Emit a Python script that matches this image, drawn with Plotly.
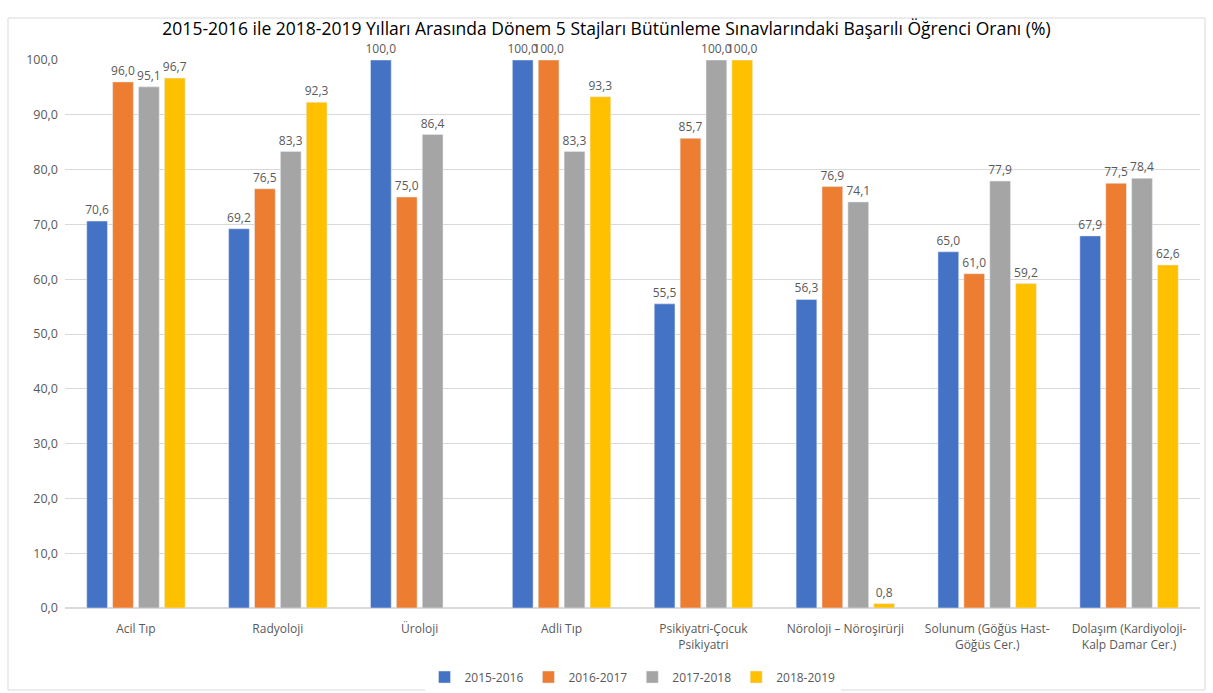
import plotly.graph_objects as go

categories = ["Acil Tıp", "Radyoloji", "Üroloji", "Adli Tıp", "Psikiyatri-Çocuk<br>Psikiyatri",
              "Nöroloji – Nöroşirürji", "Solunum (Göğüs Hast-<br>Göğüs Cer.)",
              "Dolaşım (Kardiyoloji-<br>Kalp Damar Cer.)"]
series_names = ["2015-2016", "2016-2017", "2017-2018", "2018-2019"]
v2015 = [70.6, 69.2, 100.0, 100.0, 55.5, 56.3, 65.0, 67.9]
v2016 = [96.0, 76.5, 75.0, 100.0, 85.7, 76.9, 61.0, 77.5]
v2017 = [95.1, 83.3, 86.4, 83.3, 100.0, 74.1, 77.9, 78.4]
v2018 = [96.7, 92.3, None, 93.3, 100.0, 0.8, 59.2, 62.6]
colors = ["#4472C4", "#ED7D31", "#A5A5A5", "#FFC000"]
title = "2015-2016 ile 2018-2019 Yılları Arasında Dönem 5 Stajları Bütünleme Sınavlarındaki Başarılı Öğrenci Oranı (%)"

FONT = "Open Sans, Liberation Sans, sans-serif"
fig = go.Figure()
for name, vals, col in zip(series_names, [v2015, v2016, v2017, v2018], colors):
    txt = ["" if v is None else f"{v:.1f}".replace(".", ",") for v in vals]
    fig.add_trace(go.Bar(
        x=categories, y=vals, name=name, marker_color=col,
        text=txt, textposition="outside", cliponaxis=False, constraintext="none",
        textfont=dict(size=12, color="#595959", family=FONT),
    ))

fig.update_layout(
    width=1213, height=693,
    barmode="group", bargap=0.27, bargroupgap=0.2,
    separators=",.",
    paper_bgcolor="white", plot_bgcolor="white",
    margin=dict(l=65, r=13, t=60, b=85, autoexpand=False),
    font=dict(family=FONT, color="#595959", size=12),
    title=dict(text=title, x=0.5, xanchor="center", y=0.959, yanchor="middle",
               font=dict(size=17.5, color="#000000", family=FONT)),
    legend=dict(orientation="h", x=0.5, xanchor="center", y=-0.126, yanchor="middle",
                font=dict(size=12, color="#595959"), traceorder="normal",
                itemwidth=30, tracegroupgap=0),
    showlegend=True,
)
fig.update_yaxes(range=[0, 100], dtick=10, tickformat=".1f", showgrid=True,
                 gridcolor="#D9D9D9", zeroline=True, zerolinecolor="#D9D9D9",
                 ticks="", tickfont=dict(size=12.5, color="#595959"), automargin=False,
                 ticklabelstandoff=6)
fig.update_xaxes(showline=True, linecolor="#D9D9D9", ticks="", automargin=False,
                 tickfont=dict(size=12, color="#595959"), ticklabelstandoff=10)
fig.update_traces(textangle=0)
fig.add_shape(type="rect", xref="paper", yref="paper",
              x0=(8 - 65) / 1135, x1=(1205 - 65) / 1135,
              y0=(608 - 690) / 548, y1=(608 - 18) / 548,
              line=dict(color="#D9D9D9", width=1), fillcolor="rgba(0,0,0,0)", layer="below")
fig.write_html("out.html", config={"displayModeBar": False},
               post_script="document.body.style.margin='0';document.body.style.overflow='hidden';")
